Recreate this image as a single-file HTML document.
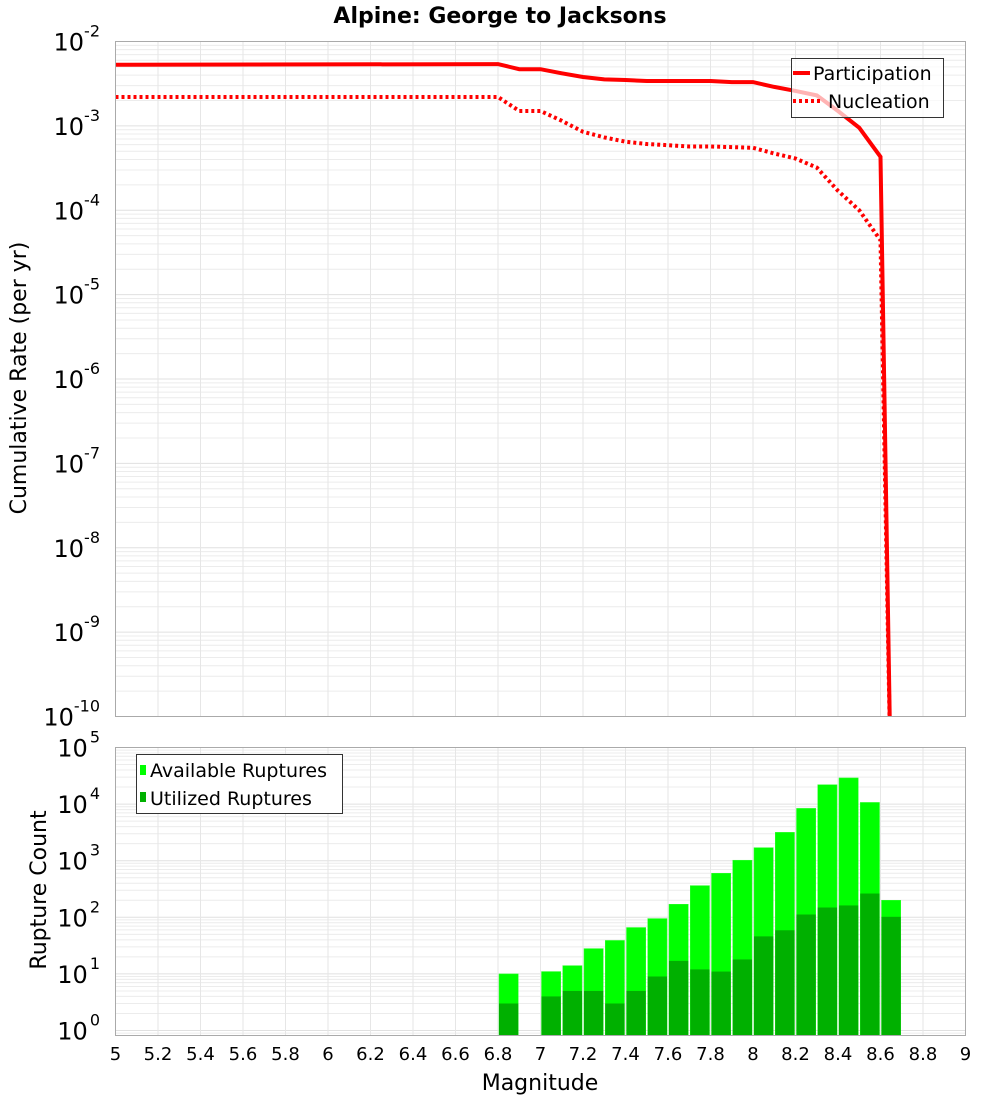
<!DOCTYPE html>
<html><head><meta charset="utf-8"><style>
html,body{margin:0;padding:0;background:#fff}
svg{display:block;font-family:"DejaVu Sans","Liberation Sans",sans-serif}
</style></head><body>
<svg id="c" width="1000" height="1100" viewBox="0 0 1000 1100" xmlns="http://www.w3.org/2000/svg">
<text x="500" y="23" text-anchor="middle" font-weight="bold" font-size="22">Alpine: George to Jacksons</text>
<g id="topplot"></g>
<g id="botplot"></g>
<text transform="translate(26,378) rotate(-90)" text-anchor="middle" font-size="22">Cumulative Rate (per yr)</text>
<text transform="translate(46,890) rotate(-90)" text-anchor="middle" font-size="22">Rupture Count</text>
<text x="540" y="1090" text-anchor="middle" font-size="22">Magnitude</text>
</svg>
<script>
const xTicks=[5,5.2,5.4,5.6,5.8,6,6.2,6.4,6.6,6.8,7,7.2,7.4,7.6,7.8,8,8.2,8.4,8.6,8.8,9];
const lineMags=[5,6.8,6.9,7.0,7.1,7.2,7.3,7.4,7.5,7.6,7.7,7.8,7.9,8.0,8.1,8.2,8.3,8.4,8.5,8.6,8.65];
const participation=[0.0053,0.0054,0.0047,0.0047,0.0042,0.0038,0.00355,0.0035,0.0034,0.0034,0.0034,0.0034,0.0033,0.0033,0.0029,0.0026,0.0023,0.0015,0.00095,0.00043,1e-11];
const nucleation=[0.0022,0.0022,0.0015,0.0015,0.00115,0.00085,0.00073,0.00065,0.00061,0.00059,0.00057,0.00057,0.00056,0.00055,0.00047,0.00041,0.00032,0.00017,0.0001,0.000044,1e-11];
const barMags=[6.8,7.0,7.1,7.2,7.3,7.4,7.5,7.6,7.7,7.8,7.9,8.0,8.1,8.2,8.3,8.4,8.5,8.6];
const available=[10,11,14,28,39,66,95,170,363,600,1020,1700,3170,8400,22000,29000,10700,200];
const utilized=[3,4,5,5,3,5,9,17,12,11,18,46,59,112,149,162,263,102];
const topExp=[-2,-3,-4,-5,-6,-7,-8,-9,-10];
const botExp=[5,4,3,2,1,0];

const NS="http://www.w3.org/2000/svg";
const L=115.5,R=965.5;
const xs=m=>L+(m-5)/4*(R-L);
const T1=41.5,B1=716.5;
const y1=v=>T1+(-2-Math.log10(v))*(B1-T1)/8;
const T2=747.5,Z2=1030.5,B2=1035.5;
const y2=v=>Z2-Math.log10(v)*56.6;
function mk(p,t,a){const e=document.createElementNS(NS,t);for(const k in a)e.setAttribute(k,a[k]);p.appendChild(e);return e;}
const topG=document.getElementById('topplot'),botG=document.getElementById('botplot');

function grid(g,T,B,yf,eMin,eMax){
  const gg=mk(g,'g',{});
  
  
  for(let e=eMin;e<eMax;e++)for(let k=1;k<10;k++){const y=yf(k*Math.pow(10,e));if(y<T-0.1||y>B+0.1)continue;
    mk(gg,'line',{x1:L,x2:R,y1:y,y2:y,stroke:k==1?'#e0e0e0':'#ececec','stroke-width':1});}
  for(const t of xTicks){mk(gg,'line',{x1:xs(t),x2:xs(t),y1:T,y2:B,stroke:'#e6e6e6','stroke-width':1});}
}
grid(topG,T1,B1,y1,-10,-2);
grid(botG,T2,B2,y2,-1,5);

const clip=mk(topG,'clipPath',{id:'cp1'});mk(clip,'rect',{x:L,y:T1,width:R-L,height:B1-T1});
function path(vals,f){return lineMags.map((m,i)=>(i?'L':'M')+xs(m).toFixed(1)+','+f(vals[i]).toFixed(1)).join(' ');}
const pl=mk(topG,'path',{d:path(participation,y1),fill:'none',stroke:'#ff0000','stroke-width':4,'clip-path':'url(#cp1)'});


const nl=mk(topG,'path',{d:path(nucleation,y1),fill:'none',stroke:'#ff0000','stroke-width':4,'stroke-dasharray':'3,3','clip-path':'url(#cp1)'});



barMags.forEach((m,i)=>{
  const x0=xs(m)+1,w=xs(m+0.1)-xs(m)-2;
  const a=mk(botG,'rect',{x:x0,y:y2(available[i]),width:w,height:B2-y2(available[i]),fill:'#00ff00',stroke:'#33ff33','stroke-width':0.5});
  
  
  const u=mk(botG,'rect',{x:x0,y:y2(utilized[i]),width:w,height:B2-y2(utilized[i]),fill:'#00b000'});
  
  
});

mk(topG,'rect',{x:L,y:T1,width:R-L,height:B1-T1,fill:'none',stroke:'#aaaaaa'});
mk(botG,'rect',{x:L,y:T2,width:R-L,height:B2-T2,fill:'none',stroke:'#aaaaaa'});

topExp.forEach(e=>{const t=mk(topG,'text',{x:100,y:y1(Math.pow(10,e))+9,'text-anchor':'end','font-size':24});
  
  
  t.textContent='10';const s=mk(t,'tspan',{dy:-14,'font-size':16});s.textContent=String(e);});
botExp.forEach(e=>{const t=mk(botG,'text',{x:100,y:y2(Math.pow(10,e))+9,'text-anchor':'end','font-size':24});
  
  
  t.textContent='10';const s=mk(t,'tspan',{dx:2,dy:-14,'font-size':16});s.textContent=String(e);});
xTicks.forEach(v=>{const t=mk(botG,'text',{x:xs(v),y:1060,'text-anchor':'middle','font-size':18});
  
  
  t.textContent=String(v);});

const lg=mk(topG,'g',{});


mk(lg,'rect',{x:791.5,y:58.5,width:152,height:59,fill:'#fff',stroke:'#333','stroke-width':1,'fill-opacity':0.7});
mk(lg,'line',{x1:793,x2:810,y1:73,y2:73,stroke:'#ff0000','stroke-width':4});
mk(lg,'line',{x1:793,x2:820,y1:101,y2:101,stroke:'#ff0000','stroke-width':4,'stroke-dasharray':'3,3'});
let tx=mk(lg,'text',{x:813,y:80,'font-size':19});tx.textContent='Participation';
tx=mk(lg,'text',{x:828,y:108,'font-size':19});tx.textContent='Nucleation';

const lg2=mk(botG,'g',{});


mk(lg2,'rect',{x:136.5,y:754.5,width:206,height:59,fill:'#fff',stroke:'#333','stroke-width':1});
mk(lg2,'rect',{x:140,y:765,width:6,height:10,fill:'#00ff00'});
mk(lg2,'rect',{x:140,y:792,width:6,height:10,fill:'#00b000'});
tx=mk(lg2,'text',{x:150,y:777,'font-size':19});tx.textContent='Available Ruptures';
tx=mk(lg2,'text',{x:150,y:805,'font-size':19});tx.textContent='Utilized Ruptures';
</script>
</body></html>
